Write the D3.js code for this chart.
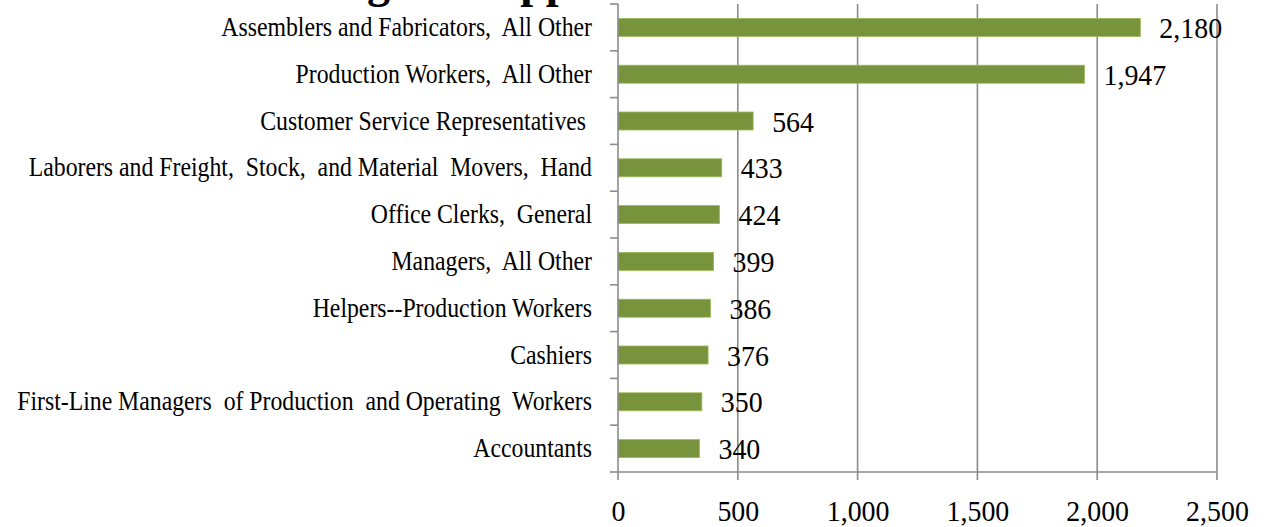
<!DOCTYPE html>
<html>
<head>
<meta charset="utf-8">
<script src="https://cdn.jsdelivr.net/npm/d3@7"></script>
<style>
  body { margin: 0; background: #fff; }
  text { font-family: "Liberation Serif", "Times New Roman", serif; fill: #000; }
</style>
</head>
<body>
<div id="chart"></div>
<script>
var width = 1269,
    height = 527;

// occupations, top to bottom
var occupations = [
  "Assemblers and Fabricators,  All Other",
  "Production Workers,  All Other",
  "Customer Service Representatives ",
  "Laborers and Freight,  Stock,  and Material  Movers,  Hand",
  "Office Clerks,  General",
  "Managers,  All Other",
  "Helpers--Production Workers",
  "Cashiers",
  "First-Line Managers  of Production  and Operating  Workers",
  "Accountants"
];
var openings = [2180, 1947, 564, 433, 424, 399, 386, 376, 350, 340];
var xTicks = [0, 500, 1000, 1500, 2000, 2500];

var data = occupations.map(function(d, i) { return {name: d, value: openings[i]}; });

var svg = d3.select("#chart").append("svg")
    .attr("width", width)
    .attr("height", height);

var x = d3.scaleLinear()
    .domain([0, 2500])
    .range([618, 1217]);

var y = d3.scaleBand()
    .domain(occupations)
    .range([4, 472])
    .paddingInner(0.615)
    .paddingOuter(0.3075);

var fmt = d3.format(",");
var gridColor = "#8c8c8c";
var squeeze = 0.88;   // the pdf font is narrower than Liberation Serif

// title, mostly cut off at the top of the picture
svg.append("text")
    .attr("x", 234)
    .attr("y", -3)
    .style("font-size", "46px")
    .style("font-weight", "bold")
    .text("Staffing Job Opportunities");

// vertical gridlines
svg.selectAll("line.grid")
    .data(xTicks.slice(1))
  .enter().append("line")
    .attr("class", "grid")
    .attr("x1", function(d) { return x(d); })
    .attr("x2", function(d) { return x(d); })
    .attr("y1", 4)
    .attr("y2", 480)
    .attr("stroke", gridColor)
    .attr("stroke-width", 1.6);

// bars
svg.selectAll("rect.bar")
    .data(data)
  .enter().append("rect")
    .attr("class", "bar")
    .attr("x", x(0))
    .attr("y", function(d) { return y(d.name); })
    .attr("width", function(d) { return x(d.value) - x(0); })
    .attr("height", y.bandwidth())
    .attr("fill", "#77933c")
    .attr("stroke", "#9bbb59")
    .attr("stroke-width", 0.8);

// value labels
svg.selectAll("text.value")
    .data(data)
  .enter().append("text")
    .attr("class", "value")
    .attr("transform", function(d) {
      return "translate(" + (x(d.value) + 19) + "," + (y(d.name) + y.bandwidth() / 2) + ") scale(0.93,1)";
    })
    .attr("dy", "0.35em")
    .style("font-size", "30px")
    .text(function(d) { return fmt(d.value); });

// left axis
var pad = 26;
var yAxis = d3.axisLeft(y).tickSize(0).tickPadding(pad);
var gy = svg.append("g")
    .attr("transform", "translate(" + x(0) + ",0)")
    .call(yAxis);
gy.select(".domain").remove();
gy.selectAll("text")
    .style("font-size", "27px")
    .style("font-family", "Liberation Serif, serif")
    .style("white-space", "pre")
    .attr("fill", "#000")
    .attr("x", -pad / squeeze)
    .attr("transform", "scale(" + squeeze + ",1)");

// category separators on the left axis
var edges = d3.range(occupations.length + 1).map(function(i) {
  return 4 + i * y.step();
});
svg.selectAll("line.ytick")
    .data(edges)
  .enter().append("line")
    .attr("class", "ytick")
    .attr("x1", x(0) - 8)
    .attr("x2", x(0))
    .attr("y1", function(d) { return d; })
    .attr("y2", function(d) { return d; })
    .attr("stroke", gridColor)
    .attr("stroke-width", 1.6);

svg.append("line")
    .attr("x1", x(0)).attr("x2", x(0))
    .attr("y1", 4).attr("y2", 480)
    .attr("stroke", gridColor)
    .attr("stroke-width", 1.6);

// bottom axis
var xAxis = d3.axisBottom(x)
    .tickValues(xTicks)
    .tickFormat(fmt)
    .tickSize(0)
    .tickPadding(28);
var gx = svg.append("g")
    .attr("transform", "translate(0,472)")
    .call(xAxis);
gx.select(".domain").remove();
gx.selectAll("text")
    .style("font-size", "30px")
    .style("font-family", "Liberation Serif, serif")
    .attr("fill", "#000")
    .attr("transform", "scale(0.93,1)");

svg.append("line")
    .attr("x1", x(0)).attr("x2", x(2500))
    .attr("y1", 472).attr("y2", 472)
    .attr("stroke", gridColor)
    .attr("stroke-width", 1.6);
</script>
</body>
</html>
